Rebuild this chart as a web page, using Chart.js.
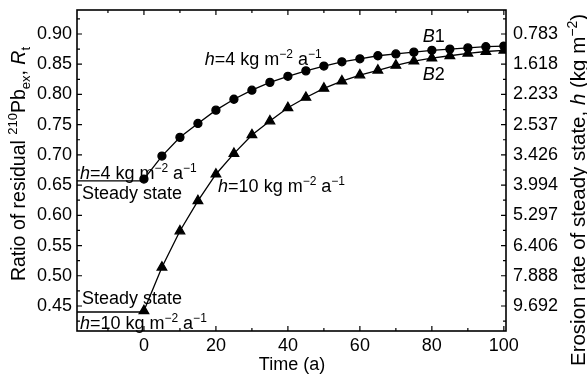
<!DOCTYPE html>
<html>
<head>
<meta charset="utf-8">
<script src="https://cdn.jsdelivr.net/npm/chart.js@4/dist/chart.umd.min.js"></script>
<style>
    html, body { margin: 0; padding: 0; background: #fff; }
    #wrap { width: 587px; height: 380px; }
</style>
</head>
<body>
<div id="wrap"><canvas id="chart"></canvas></div>
<script>
// Data
const times = [0, 5, 10, 15, 20, 25, 30, 35, 40, 45, 50, 55, 60, 65, 70, 75, 80, 85, 90, 95, 100];
const seriesB1 = [0.660, 0.698, 0.729, 0.752, 0.774, 0.792, 0.807, 0.820, 0.830, 0.839, 0.847,
                  0.854, 0.859, 0.864, 0.867, 0.870, 0.873, 0.875, 0.877, 0.879, 0.880];
const seriesB2 = [0.442, 0.514, 0.574, 0.624, 0.668, 0.702, 0.733, 0.756, 0.778, 0.795, 0.810,
                  0.822, 0.832, 0.840, 0.848, 0.855, 0.860, 0.864, 0.868, 0.871, 0.873];

// Steady-state lines before t = 0
const steadyTimes = [-18.6, 0];
const steadyB1 = [0.657, 0.657];
const steadyB2 = [0.440, 0.440];

// Axes
const xTicks = [0, 20, 40, 60, 80, 100];
const xMinorTicks = [-10, 10, 30, 50, 70, 90];
const yTicks = [0.45, 0.50, 0.55, 0.60, 0.65, 0.70, 0.75, 0.80, 0.85, 0.90];
const yMinorTicks = [0.425, 0.475, 0.525, 0.575, 0.625, 0.675, 0.725, 0.775, 0.825, 0.875, 0.925];
const rightLabels = ['9.692', '7.888', '6.406', '5.297', '3.994', '3.426', '2.537', '2.233', '1.618', '0.783'];

const FONT = '"Liberation Sans", Arial, sans-serif';
const FS = 18;

// Text labels inside the plot (data coordinates)
const hFour = [['h', 'i'], ['=4 kg m', ''], ['\u22122', 'sup'], [' a', ''], ['\u22121', 'sup']];
const hTen = [['h', 'i'], ['=10 kg m', ''], ['\u22122', 'sup'], [' a', ''], ['\u22121', 'sup']];
const notes = [
    { x: -17.8, y: 0.6715, parts: hFour },
    { x: -17.2, y: 0.6384, parts: [['Steady state', '']] },
    { x: 16.9, y: 0.860, parts: hFour },
    { x: 77.5, y: 0.898, parts: [['B', 'i'], ['1', '']] },
    { x: 77.5, y: 0.8354, parts: [['B', 'i'], ['2', '']] },
    { x: 20.6, y: 0.650, parts: hTen },
    { x: -17.2, y: 0.4646, parts: [['Steady state', '']] },
    { x: -17.8, y: 0.4232, parts: hTen }
];

function pairs(xs, ys) {
    return xs.map((x, i) => ({ x, y: ys[i] }));
}

function partFont(style, size) {
    if (style === 'i') return `italic ${size}px ${FONT}`;
    if (style === 'sup' || style === 'sub') return `${Math.round(size * 0.68)}px ${FONT}`;
    return `${size}px ${FONT}`;
}

function richWidth(ctx, parts, size) {
    let w = 0;
    parts.forEach(([t, s]) => { ctx.font = partFont(s, size); w += ctx.measureText(t).width; });
    return w;
}

function drawRich(ctx, parts, x, y, size) {
    ctx.textBaseline = 'alphabetic';
    ctx.textAlign = 'left';
    let cx = x;
    parts.forEach(([t, s]) => {
        ctx.font = partFont(s, size);
        let dy = 0;
        if (s === 'sup') dy = -size * 0.38;
        if (s === 'sub') dy = size * 0.28;
        ctx.fillText(t, cx, y + dy);
        cx += ctx.measureText(t).width;
    });
}

// Frame, inward ticks, labels and axis titles
const decorPlugin = {
    id: 'decor',
    afterDraw(chart) {
        const { ctx, chartArea: a, scales } = chart;
        const xs = scales.x, ys = scales.y;
        ctx.save();
        ctx.strokeStyle = '#000';
        ctx.fillStyle = '#000';

        ctx.lineWidth = 1.6;
        ctx.strokeRect(a.left, a.top, a.right - a.left, a.bottom - a.top);

        ctx.lineWidth = 1.2;
        ctx.beginPath();
        const xMark = (v, len) => {
            const px = xs.getPixelForValue(v);
            ctx.moveTo(px, a.bottom); ctx.lineTo(px, a.bottom - len);
            ctx.moveTo(px, a.top); ctx.lineTo(px, a.top + len);
        };
        const yMark = (v, len) => {
            const py = ys.getPixelForValue(v);
            ctx.moveTo(a.left, py); ctx.lineTo(a.left + len, py);
            ctx.moveTo(a.right, py); ctx.lineTo(a.right - len, py);
        };
        xTicks.forEach(v => xMark(v, 5));
        xMinorTicks.forEach(v => xMark(v, 3));
        yTicks.forEach(v => yMark(v, 5));
        yMinorTicks.forEach(v => yMark(v, 3));
        ctx.stroke();

        notes.forEach(n => {
            const px = xs.getPixelForValue(n.x);
            const py = ys.getPixelForValue(n.y);
            drawRich(ctx, n.parts, px, py + FS * 0.36, FS);
        });

        // x title
        ctx.font = `${FS}px ${FONT}`;
        ctx.textAlign = 'center';
        ctx.textBaseline = 'middle';
        ctx.fillText('Time (a)', 292, 365);

        // left title
        const leftTitle = [['Ratio of residual ', ''], ['210', 'sup'], ['Pb', ''], ['ex', 'sub'],
                           [', ', ''], ['R', 'i'], ['t', 'sub']];
        ctx.save();
        ctx.translate(24.5, 164);
        ctx.rotate(-Math.PI / 2);
        drawRich(ctx, leftTitle, -richWidth(ctx, leftTitle, 19.5) / 2, 0, 19.5);
        ctx.restore();

        // right title
        const rightTitle = [['Erosion rate of steady state, ', ''], ['h', 'i'], [' (kg m', ''],
                            ['\u22122', 'sup'], [')', '']];
        ctx.save();
        ctx.translate(585, 190);
        ctx.rotate(-Math.PI / 2);
        drawRich(ctx, rightTitle, -richWidth(ctx, rightTitle, 20.5) / 2, 0, 20.5);
        ctx.restore();

        ctx.restore();
    }
};

const lineStyle = { borderColor: '#000', backgroundColor: '#000', borderWidth: 1.3, tension: 0 };

function noPad(s) {
    s.paddingTop = 0; s.paddingBottom = 0; s.paddingLeft = 0; s.paddingRight = 0;
}

new Chart(document.getElementById('chart'), {
    type: 'line',
    data: {
        datasets: [
            { ...lineStyle, label: 'B1', data: pairs(times, seriesB1), pointStyle: 'circle', pointRadius: 4 },
            { ...lineStyle, label: 'B2', data: pairs(times, seriesB2), pointStyle: 'triangle', pointRadius: 5.5 },
            { ...lineStyle, label: 'ss1', data: pairs(steadyTimes, steadyB1), pointRadius: 0 },
            { ...lineStyle, label: 'ss2', data: pairs(steadyTimes, steadyB2), pointRadius: 0 }
        ]
    },
    options: {
        responsive: true,
        maintainAspectRatio: false,
        animation: false,
        layout: { padding: { top: 10, left: 0, right: 0, bottom: 0 } },
        plugins: { legend: { display: false }, tooltip: { enabled: false } },
        scales: {
            x: {
                type: 'linear',
                min: -18.6,
                max: 100.6,
                grid: { display: false, drawTicks: false },
                border: { display: false },
                afterBuildTicks: s => { s.ticks = xTicks.map(v => ({ value: v })); },
                afterFit: s => { s.height = 49; noPad(s); },
                ticks: { color: '#000', font: { family: FONT, size: FS }, padding: 4, maxRotation: 0 }
            },
            y: {
                position: 'left',
                min: 0.4086,
                max: 0.9397,
                grid: { display: false, drawTicks: false },
                border: { display: false },
                afterBuildTicks: s => { s.ticks = yTicks.map(v => ({ value: v })); },
                afterFit: s => { s.width = 77; noPad(s); },
                ticks: { color: '#000', font: { family: FONT, size: FS }, padding: 5,
                         callback: v => v.toFixed(2) }
            },
            y2: {
                position: 'right',
                min: 0.4086,
                max: 0.9397,
                grid: { display: false, drawTicks: false },
                border: { display: false },
                afterBuildTicks: s => { s.ticks = yTicks.map(v => ({ value: v })); },
                afterFit: s => { s.width = 81; noPad(s); },
                ticks: { color: '#000', font: { family: FONT, size: FS }, padding: 7,
                         callback: (v, i) => rightLabels[i] }
            }
        }
    },
    plugins: [decorPlugin]
});
</script>
</body>
</html>
